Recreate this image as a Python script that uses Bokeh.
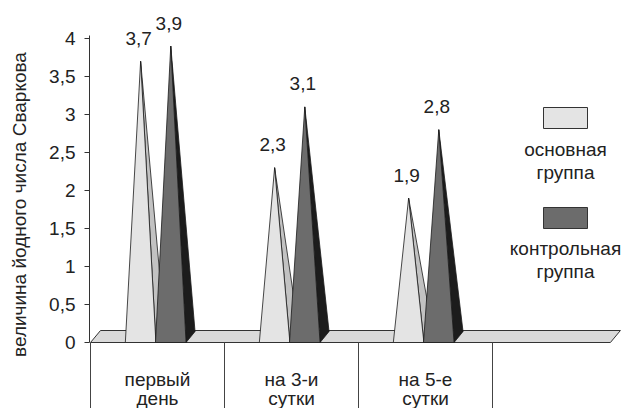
from bokeh.plotting import figure
from bokeh.models import Range1d, FixedTicker, CustomJSTickFormatter
from bokeh.core.properties import value
from bokeh.embed import file_html
from bokeh.resources import INLINE

# ---- data ----
categories = ["первый\nдень", "на 3-и\nсутки", "на 5-е\nсутки"]
series_names = ["основная\nгруппа", "контрольная\nгруппа"]
main_group = [3.7, 2.3, 1.9]
control_group = [3.9, 3.1, 2.8]
y_ticks = [0, 0.5, 1, 1.5, 2, 2.5, 3, 3.5, 4]
y_title = "величина йодного числа Сваркова"

# ---- style / layout ----
FONT = value("Liberation Sans")
FS = "19px"
TXT = "#222222"
EDGE = "#1a1a1a"
front_colors = ["#e4e4e4", "#6c6c6c"]
side_colors = ["#c2c2c2", "#1c1c1c"]
W, H = 623, 408
LEFT = 89
PX_X, PX_Y = 134.0, 76.0
X_START = -1 / PX_X
X_END = X_START + (W - LEFT) / PX_X
Y_END = 342 / PX_Y
Y_START = Y_END - H / PX_Y


def px2x(px):
    return X_START + (px - LEFT) / PX_X


def py2y(py):
    return Y_END - py / PX_Y


SLOT_OFF = [0.26, 0.485]
BAR_W = 0.228
DX, DY = 9 / PX_X, 11 / PX_Y
FDX, FDY = 10 / PX_X, 12 / PX_Y
FLOOR_END = 3.88

p = figure(width=W, height=H, x_range=Range1d(X_START, X_END), y_range=Range1d(Y_START, Y_END),
           output_backend="svg", toolbar_location=None, x_axis_location=None,
           min_border_left=LEFT, min_border_right=0, min_border_top=0, min_border_bottom=0)
p.outline_line_color = None
p.grid.visible = False
p.background_fill_color = "white"

# floor
p.patch([0, FLOOR_END, FLOOR_END + FDX, FDX], [0, 0, FDY, FDY],
        fill_color="#dadada", line_color="#333333", line_width=1)

# category separators below floor
n = len(categories)
p.segment(x0=list(range(n + 1)), y0=[0] * (n + 1), x1=list(range(n + 1)), y1=[Y_START] * (n + 1),
          line_color="#444444", line_width=1)

# pyramids
for s, vals in enumerate([main_group, control_group]):
    fx, fy, sxs, sys = [], [], [], []
    lx, ly, lt = [], [], []
    for i, v in enumerate(vals):
        xl = i + SLOT_OFF[s]
        xr = xl + BAR_W
        ax = (xl + xr) / 2
        sxs.append([xr, xr + DX, ax])
        sys.append([0, DY, v])
        fx.append([xl, xr, ax])
        fy.append([0, 0, v])
        lx.append(ax)
        ly.append(v)
        lt.append(str(v).replace(".", ","))
    p.patches(sxs, sys, fill_color=side_colors[s], line_color=EDGE, line_width=0.8)
    p.patches(fx, fy, fill_color=front_colors[s], line_color=EDGE, line_width=0.8)
    p.text(x=lx, y=ly, text=lt, text_font=FONT, text_font_size=FS, text_color=TXT,
           text_align="center", text_baseline="middle", y_offset=-23, x_offset=-2)

# category labels
l1 = [c.split("\n")[0] for c in categories]
l2 = [c.split("\n")[1] for c in categories]
cx = [i + 0.5 for i in range(n)]
p.text(x=cx, y=[py2y(379)] * n, text=l1, text_font=FONT, text_font_size=FS, text_color=TXT,
       text_align="center", text_baseline="alphabetic")
p.text(x=cx, y=[py2y(398)] * n, text=l2, text_font=FONT, text_font_size=FS, text_color=TXT,
       text_align="center", text_baseline="alphabetic")

# legend (swatch above text)
lgx = px2x(565)
sw_y = [117.5, 217.5]
txt_y = [(149, 172), (248, 271)]
for s, name in enumerate(series_names):
    p.rect(x=[lgx], y=[py2y(sw_y[s])], width=44, height=21, width_units="screen", height_units="screen",
           fill_color=front_colors[s], line_color="#333333", line_width=1)
    a, b = name.split("\n")
    p.text(x=[lgx, lgx], y=[py2y(txt_y[s][0]), py2y(txt_y[s][1])], text=[a, b], text_font=FONT,
           text_font_size=FS, text_color=TXT, text_align="center", text_baseline="middle")

# y axis
ax = p.yaxis[0]
ax.bounds = (0, 4.04)
ax.ticker = FixedTicker(ticks=y_ticks)
ax.formatter = CustomJSTickFormatter(code="return tick.toString().replace('.', ',');")
ax.minor_tick_line_color = None
ax.major_tick_out = 5
ax.major_tick_in = 0
ax.axis_line_color = "#333333"
ax.major_tick_line_color = "#333333"
ax.major_label_text_font = "Liberation Sans"
ax.major_label_text_font_size = FS
ax.major_label_text_color = TXT
ax.major_label_standoff = 9
ax.axis_label = y_title
ax.axis_label_text_font = "Liberation Sans"
ax.axis_label_text_font_size = FS
ax.axis_label_text_font_style = "normal"
ax.axis_label_text_color = TXT
ax.axis_label_standoff = 16

open("out.html", "w").write(file_html(p, INLINE))
